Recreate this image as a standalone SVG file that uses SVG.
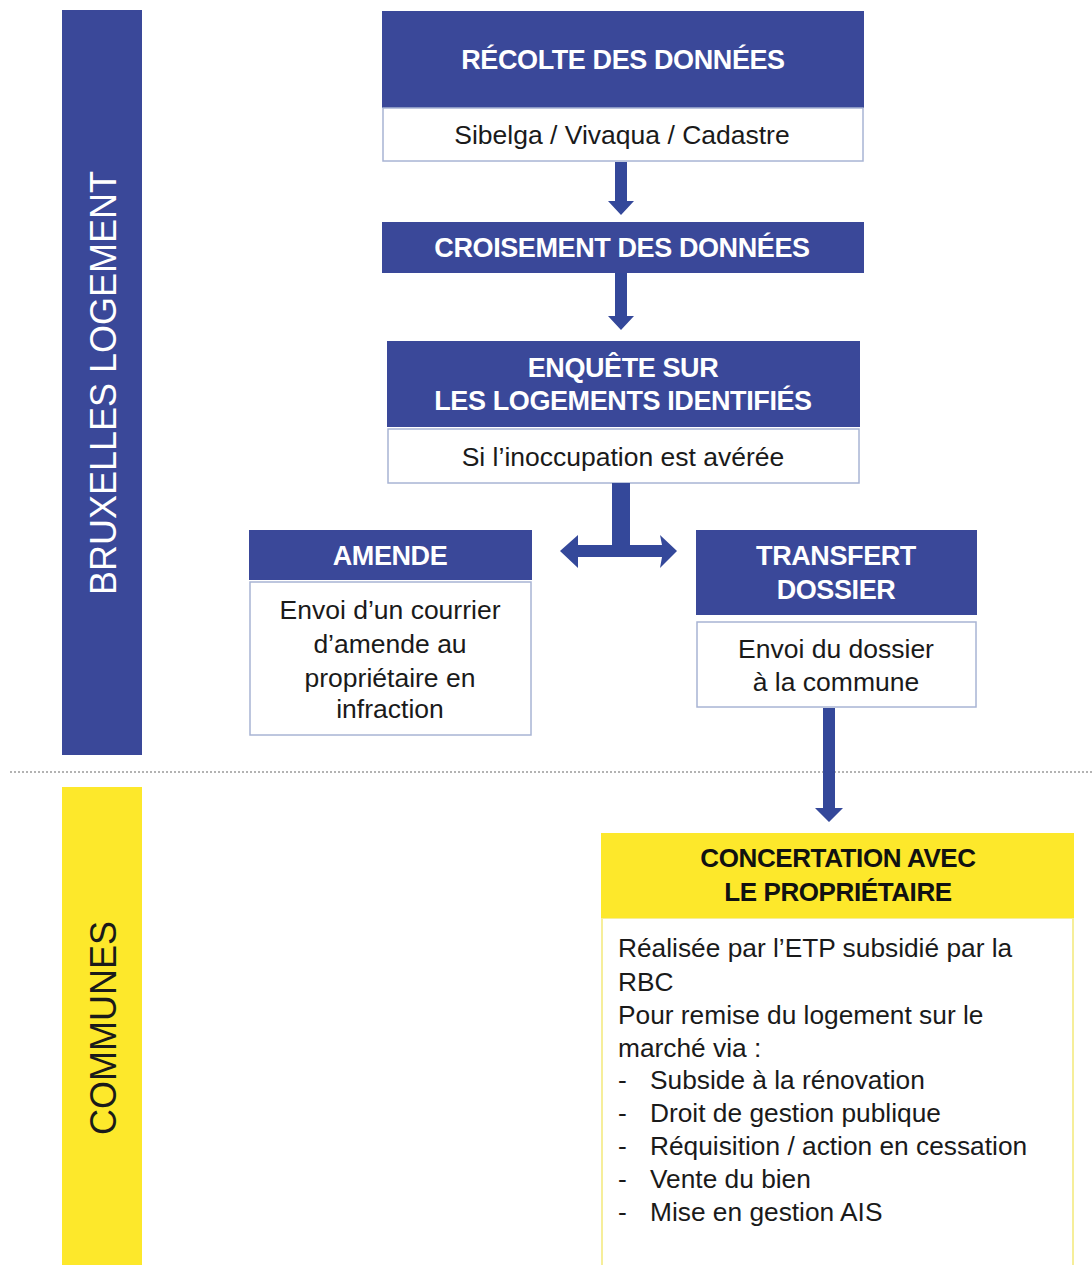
<svg xmlns="http://www.w3.org/2000/svg" width="1092" height="1265" viewBox="0 0 1092 1265">
<style>
.blue{fill:#3a4899}
.yel{fill:#fde82b}
.wbox{fill:#ffffff;stroke:#a8b4d4;stroke-width:1.5}
.ybox{fill:#ffffff;stroke:#f6ee9a;stroke-width:2}
.ht{font-family:"Liberation Sans",Arial,sans-serif;font-weight:bold;font-size:27px;fill:#ffffff;text-anchor:middle;letter-spacing:-0.4px}
.hk{font-family:"Liberation Sans",Arial,sans-serif;font-weight:bold;font-size:26px;fill:#111111;text-anchor:middle;letter-spacing:-0.4px}
.bt{font-family:"Liberation Sans",Arial,sans-serif;font-size:26.5px;fill:#1a1a1a;text-anchor:middle}
.lt{font-family:"Liberation Sans",Arial,sans-serif;font-size:26.3px;fill:#1a1a1a}
.vt{font-family:"Liberation Sans",Arial,sans-serif;font-size:36px;text-anchor:middle}
.arr{fill:#34489a}
</style>

<g id="lane-bruxelles">
<rect class="blue" x="62" y="10" width="80" height="745"/>
<text class="vt" fill="#ffffff" transform="translate(103,383) rotate(-90)" y="13">BRUXELLES LOGEMENT</text>
</g>
<g id="lane-communes">
<rect class="yel" x="62" y="787" width="80" height="478"/>
<text class="vt" fill="#1a1a1a" transform="translate(103,1028) rotate(-90)" y="13">COMMUNES</text>
</g>

<line x1="10" y1="772" x2="1092" y2="772" stroke="#9a9a9a" stroke-width="1.5" stroke-dasharray="2,2"/>

<g id="recolte">
<rect class="blue" x="382" y="11" width="482" height="97"/>
<text class="ht" x="623" y="69">RÉCOLTE DES DONNÉES</text>
<rect class="wbox" x="383" y="108" width="480" height="53"/>
<text class="bt" x="622" y="144">Sibelga / Vivaqua / Cadastre</text>
</g>

<g id="croisement">
<rect class="blue" x="382" y="222" width="482" height="51"/>
<text class="ht" x="622" y="257">CROISEMENT DES DONNÉES</text>
</g>

<g id="enquete">
<rect class="blue" x="387" y="341" width="473" height="86"/>
<text class="ht" x="623" y="377">ENQUÊTE SUR</text>
<text class="ht" x="623" y="410">LES LOGEMENTS IDENTIFIÉS</text>
<rect class="wbox" x="388" y="429" width="471" height="54"/>
<text class="bt" x="623" y="466">Si l’inoccupation est avérée</text>
</g>

<g id="amende">
<rect class="blue" x="249" y="530" width="283" height="50"/>
<text class="ht" x="390" y="565">AMENDE</text>
<rect class="wbox" x="250" y="582" width="281" height="153"/>
<text class="bt" x="390" y="619">Envoi d’un courrier</text>
<text class="bt" x="390" y="653">d’amende au</text>
<text class="bt" x="390" y="687">propriétaire en</text>
<text class="bt" x="390" y="718">infraction</text>
</g>

<g id="transfert">
<rect class="blue" x="696" y="530" width="281" height="85"/>
<text class="ht" x="836" y="565">TRANSFERT</text>
<text class="ht" x="836" y="599">DOSSIER</text>
<rect class="wbox" x="697" y="622" width="279" height="85"/>
<text class="bt" x="836" y="658">Envoi du dossier</text>
<text class="bt" x="836" y="691">à la commune</text>
</g>

<g id="concertation">
<rect class="ybox" x="602" y="918" width="471" height="360"/>
<rect class="yel" x="601" y="833" width="473" height="85"/>
<text class="hk" x="838" y="867">CONCERTATION AVEC</text>
<text class="hk" x="838" y="901">LE PROPRIÉTAIRE</text>
<text class="lt" x="618" y="957">Réalisée par l’ETP subsidié par la</text>
<text class="lt" x="618" y="991">RBC</text>
<text class="lt" x="618" y="1024">Pour remise du logement sur le</text>
<text class="lt" x="618" y="1057">marché via :</text>
<text class="lt" x="618" y="1089">-</text><text class="lt" x="650" y="1089">Subside à la rénovation</text>
<text class="lt" x="618" y="1122">-</text><text class="lt" x="650" y="1122">Droit de gestion publique</text>
<text class="lt" x="618" y="1155">-</text><text class="lt" x="650" y="1155">Réquisition / action en cessation</text>
<text class="lt" x="618" y="1188">-</text><text class="lt" x="650" y="1188">Vente du bien</text>
<text class="lt" x="618" y="1221">-</text><text class="lt" x="650" y="1221">Mise en gestion AIS</text>
</g>

<g id="connectors">
<polygon class="arr" points="615,162 627,162 627,201 634,201 621,215 608,201 615,201"/>
<polygon class="arr" points="615,273 627,273 627,316 634,316 621,330 608,316 615,316"/>
<polygon class="arr" points="612,483 630,483 630,545 662,545 660,535 677,551 660,568 662,557 578,557 578,568 560,551 578,535 578,545 612,545"/>
<polygon class="arr" points="823,708 835,708 835,808 843,808 829,822 815,808 823,808"/>
</g>
</svg>
